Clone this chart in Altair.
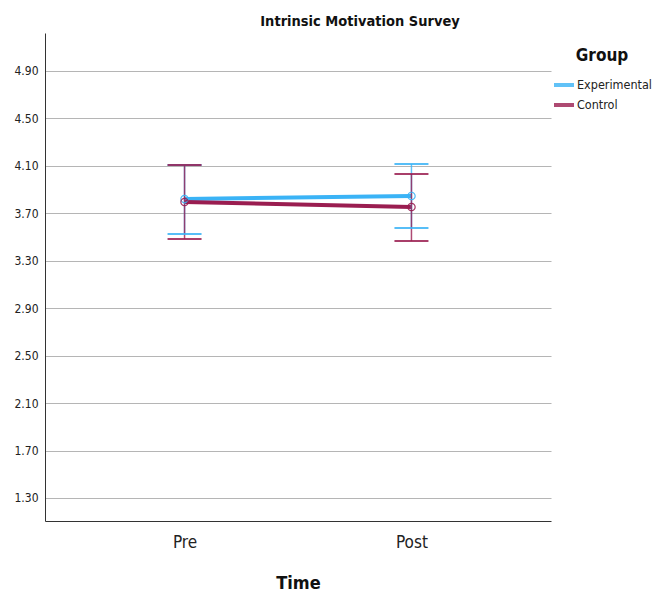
import altair as alt
import pandas as pd

groups = ["Experimental", "Experimental", "Control", "Control"]
times = ["Pre", "Post", "Pre", "Post"]
means = [3.82, 3.846, 3.795, 3.753]
lowers = [3.526, 3.576, 3.483, 3.467]
uppers = [4.107, 4.116, 4.107, 4.032]
y_ticks = [1.3, 1.7, 2.1, 2.5, 2.9, 3.3, 3.7, 4.1, 4.5, 4.9]

df = pd.DataFrame({"Group": groups, "Time": times, "Mean": means,
                   "Lower": lowers, "Upper": uppers})

FONT = "DejaVu Sans Condensed"
color = alt.Color("Group:N",
                  scale=alt.Scale(domain=["Experimental", "Control"],
                                  range=["#3AB3F6", "#9A1D50"]),
                  legend=alt.Legend(title="Group", orient="none", legendX=507, legendY=15,
                                    symbolType="stroke", symbolStrokeWidth=4, symbolSize=400,
                                    titleFontSize=17, titleFontWeight="bold", titleFont=FONT,
                                    labelFontSize=12.5, labelFont=FONT, labelColor="#222",
                                    titleColor="#111", rowPadding=0, titlePadding=8,
                                    titleAnchor="middle", labelOffset=1))

x = alt.X("Time:N", sort=["Pre", "Post"],
          scale=alt.Scale(type="point", domain=["Pre", "Post"], padding=0.615),
          axis=alt.Axis(title="Time", labelAngle=0, labelFontSize=17, labelFont=FONT,
                        titleFont=FONT, titleFontSize=18, titleFontWeight="bold",
                        ticks=False, labelPadding=13, titlePadding=24, domainColor="#333",
                        labelColor="#222", titleColor="#111", grid=False))
yscale = alt.Scale(domain=[1.106, 5.22], nice=False, zero=False)
y = alt.Y("Mean:Q", scale=yscale,
          axis=alt.Axis(title=None, values=y_ticks, format=".2f", labelFontSize=12,
                        labelFont=FONT, ticks=False, labelPadding=7, domainColor="#333",
                        gridColor="#B5B5B5", gridWidth=1, labelColor="#222"))

base = alt.Chart(df)
lines = base.mark_line(strokeWidth=4).encode(x=x, y=y, color=color, detail="Group:N")
rules = base.mark_rule(strokeWidth=1.5, opacity=0.8).encode(
    x=alt.X("Time:N", sort=["Pre", "Post"]), y=alt.Y("Lower:Q"), y2="Upper:Q", color=color)
caps_lo = base.mark_tick(orient="horizontal", size=34, thickness=2, opacity=0.85).encode(
    x=alt.X("Time:N", sort=["Pre", "Post"]), y=alt.Y("Lower:Q"), color=color)
caps_hi = base.mark_tick(orient="horizontal", size=34, thickness=2, opacity=0.85).encode(
    x=alt.X("Time:N", sort=["Pre", "Post"]), y=alt.Y("Upper:Q"), color=color)
pts = base.mark_point(filled=False, size=55, strokeWidth=1.2, opacity=0.9).encode(
    x=alt.X("Time:N", sort=["Pre", "Post"]), y=alt.Y("Mean:Q"), color=color)

chart = alt.layer(lines, rules, caps_lo, caps_hi, pts).properties(
    width=506, height=488,
    title=alt.TitleParams("Intrinsic Motivation Survey", fontSize=14.5, font=FONT,
                          fontWeight="bold", anchor="middle", dx=62, offset=4, color="#111"),
    autosize=alt.AutoSizeParams(type="none"),
    padding={"left": 45, "top": 33, "right": 105, "bottom": 74},
    background="white",
).configure_view(strokeWidth=0, stroke=None)

chart.save("out.html", embed_options={"renderer": "svg", "actions": False})
